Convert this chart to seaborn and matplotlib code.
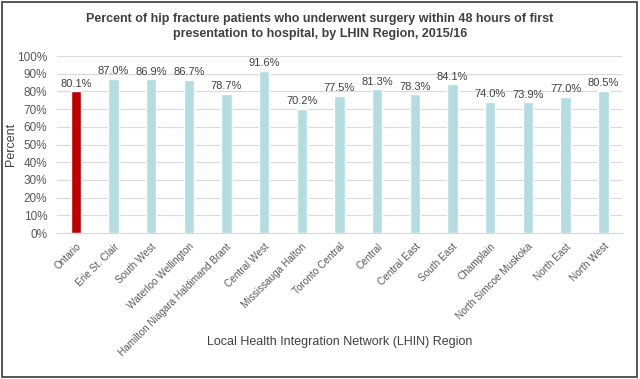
import matplotlib
matplotlib.use("Agg")
import matplotlib.pyplot as plt
import seaborn as sns
import pandas as pd
from matplotlib.patches import Rectangle
from matplotlib.ticker import PercentFormatter, MultipleLocator

regions = ["Ontario", "Erie St. Clair", "South West", "Waterloo Wellington",
           "Hamilton Niagara Haldimand Brant", "Central West", "Mississauga Halton",
           "Toronto Central", "Central", "Central East", "South East", "Champlain",
           "North Simcoe Muskoka", "North East", "North West"]
values = [80.1, 87.0, 86.9, 86.7, 78.7, 91.6, 70.2, 77.5, 81.3, 78.3, 84.1, 74.0, 73.9, 77.0, 80.5]
colors = ["#C00000"] + ["#B4DDE1"] * (len(regions) - 1)

sns.set_style("white")
plt.rcParams['font.family'] = ['Liberation Sans', 'DejaVu Sans']

df = pd.DataFrame({"region": regions, "value": values})

fig = plt.figure(figsize=(6.4, 3.79), dpi=100)
ax = fig.add_axes([0.089, 0.385, 0.883, 0.467])

sns.barplot(data=df, x="region", y="value", hue="region", palette=colors,
            legend=False, width=0.28, ax=ax, saturation=1)

ax.set_ylim(0, 100)
ax.yaxis.set_major_locator(MultipleLocator(10))
ax.yaxis.set_major_formatter(PercentFormatter(decimals=0))
ax.grid(axis="y", color="#D9D9D9", linewidth=0.8)
ax.set_axisbelow(True)
for s in ["top", "right", "left"]:
    ax.spines[s].set_visible(False)
ax.spines["bottom"].set_color("#D9D9D9")
ax.tick_params(axis="y", length=0, colors="#595959", labelsize=8.5, pad=7)
ax.tick_params(axis="x", length=0, colors="#595959", labelsize=7.2, pad=6)
ax.set_xticks(range(len(regions)))
ax.set_xticklabels(regions, rotation=45, ha="right", rotation_mode="anchor")

for i, v in enumerate(values):
    ax.text(i, v + 1.5, f"{v:.1f}%", ha="center", va="bottom", fontsize=8, color="#404040")

ax.set_ylabel("Percent", fontsize=9, color="#404040")
ax.yaxis.set_label_coords(-0.071, 0.5)
ax.set_xlabel("Local Health Integration Network (LHIN) Region", fontsize=9, color="#404040")
ax.xaxis.set_label_coords(0.5, -0.58)

fig.text(0.5, 0.929, "Percent of hip fracture patients who underwent surgery within 48 hours of first\npresentation to hospital, by LHIN Region, 2015/16",
         ha="center", va="center", fontsize=9, fontweight="bold", color="#404040", linespacing=1.35)

fig.patches.append(Rectangle((0.003, 0.005), 0.992, 0.99, transform=fig.transFigure,
                             fill=False, edgecolor="#3a3a3a", linewidth=1.2))

fig.savefig("out.png", dpi=100)
